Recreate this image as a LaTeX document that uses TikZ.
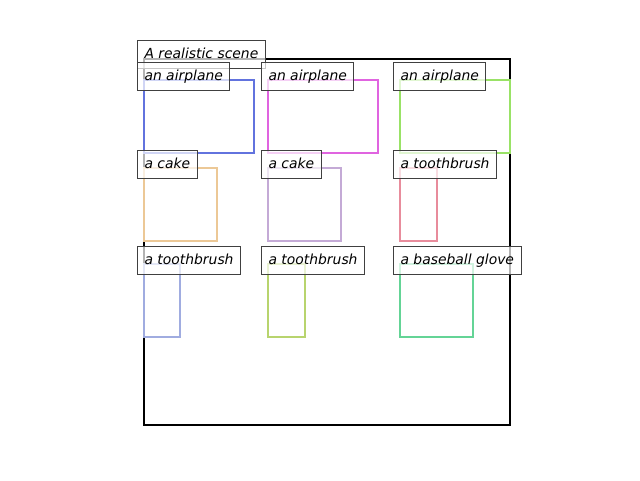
\documentclass[tikz,border=0pt]{standalone}
\usepackage{fontspec}
\newfontfamily\tagfont{DejaVu Sans}

\definecolor{planeblue}{RGB}{98,115,222}
\definecolor{planepink}{RGB}{224,100,224}
\definecolor{planegreen}{RGB}{153,226,102}
\definecolor{caketan}{RGB}{236,200,150}
\definecolor{cakelilac}{RGB}{196,170,214}
\definecolor{brushrose}{RGB}{232,140,156}
\definecolor{brushblue}{RGB}{160,172,224}
\definecolor{brusholive}{RGB}{184,212,110}
\definecolor{glovegreen}{RGB}{100,212,150}

\tikzset{
  objbox/.style={line width=2pt},
  tag/.style={draw=black!75, line width=1pt, fill=white, fill opacity=0.7,
    text opacity=1, inner sep=7pt, anchor=base west, xshift=-7pt,
    text height=11pt, text depth=3pt,
    font=\tagfont\itshape\fontsize{13.9}{16}\selectfont},
}

\begin{document}
\begin{tikzpicture}[x=1pt,y=-1pt]
  \useasboundingbox (0,0) rectangle (640,480);

  % scene frame
  \draw[line width=2pt] (144,59) rectangle (510,425);
  \node[tag] (scene) at (144,58) {A realistic scene};

  % row 1
  \draw[objbox, planeblue] (144,80) rectangle (254,153);
  \node[tag] (plane1) at (144,80) {an airplane};
  \draw[objbox, planepink] (268,80) rectangle (378,153);
  \node[tag] (plane2) at (268,80) {an airplane};
  \draw[objbox, planegreen] (400,80) rectangle (510,153);
  \node[tag] (plane3) at (400,80) {an airplane};

  % row 2
  \draw[objbox, caketan] (144,168) rectangle (217,241);
  \node[tag] (cake1) at (144,168) {a cake};
  \draw[objbox, cakelilac] (268,168) rectangle (341,241);
  \node[tag] (cake2) at (268,168) {a cake};
  \draw[objbox, brushrose] (400,168) rectangle (437,241);
  \node[tag] (brush1) at (400,168) {a toothbrush};

  % row 3
  \draw[objbox, brushblue] (144,264) rectangle (180,337);
  \node[tag] (brush2) at (144,264) {a toothbrush};
  \draw[objbox, brusholive] (268,264) rectangle (305,337);
  \node[tag] (brush3) at (268,264) {a toothbrush};
  \draw[objbox, glovegreen] (400,264) rectangle (473,337);
  \node[tag] (glove) at (400,264) {a baseball glove};
\end{tikzpicture}
\end{document}
